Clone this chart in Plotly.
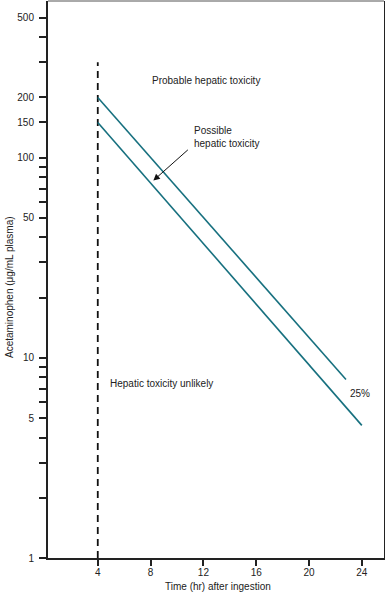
import plotly.graph_objects as go

# Data
hours_upper = [4, 22.8]
conc_upper = [200, 7.8]
hours_lower = [4, 24]
conc_lower = [150, 4.6]
hours_dash = [4, 4]
conc_dash = [1, 300]

x_tickvals = [4, 8, 12, 16, 20, 24]
x_ticktext = ["4", "8", "12", "16", "20", "24"]
y_tickvals = [1, 2, 3, 4, 5, 6, 7, 8, 9, 10, 20, 30, 40, 50, 60, 70, 80, 90,
              100, 150, 200, 300, 400, 500]
y_labeled = {1: "1", 5: "5", 10: "10", 50: "50", 100: "100", 150: "150",
             200: "200", 500: "500"}
y_ticktext = [y_labeled.get(v, "") for v in y_tickvals]

FONT = "Liberation Sans, Arial, Helvetica, sans-serif"
TEAL = "#17707f"
INK = "#222222"

fig = go.Figure()
fig.add_trace(go.Scatter(x=hours_dash, y=conc_dash, mode="lines",
                         line=dict(color="#111111", width=1.8, dash="7px,5px"),
                         hoverinfo="skip", showlegend=False))
fig.add_trace(go.Scatter(x=hours_upper, y=conc_upper, mode="lines",
                         line=dict(color=TEAL, width=1.6), showlegend=False))
fig.add_trace(go.Scatter(x=hours_lower, y=conc_lower, mode="lines",
                         line=dict(color=TEAL, width=1.6), showlegend=False))

ann_font = dict(family=FONT, size=10, color=INK)
annotations = [
    dict(x=12.22, y=2.385, xref="x", yref="y", text="Probable hepatic toxicity",
         showarrow=False, font=ann_font, xanchor="center", yanchor="middle"),
    dict(x=11.12, y=2.104, xref="x", yref="y", text="Possible<br>hepatic toxicity",
         showarrow=False, font=ann_font, xanchor="left", yanchor="middle", align="left"),
    dict(x=8.21, y=1.886, xref="x", yref="y", text="", showarrow=True,
         ax=36, ay=-32, arrowhead=2, arrowsize=1.3, arrowwidth=1, arrowcolor="#111111",
         standoff=0),
    dict(x=4.8, y=0.87, xref="x", yref="y", text="Hepatic toxicity unlikely",
         showarrow=False, font=ann_font, xanchor="left", yanchor="middle"),
    dict(x=23.84, y=0.823, xref="x", yref="y", text="25%",
         showarrow=False, font=ann_font, xanchor="center", yanchor="middle"),
    dict(x=-0.116, y=0.4865, xref="paper", yref="paper",
         text="Acetaminophen (\u03bcg/mL plasma)", textangle=-90,
         showarrow=False, font=ann_font, xanchor="center", yanchor="middle"),
    dict(x=0.5045, y=-0.0505, xref="paper", yref="paper",
         text="Time (hr) after ingestion",
         showarrow=False, font=ann_font, xanchor="center", yanchor="middle"),
]

fig.update_layout(
    width=385, height=600,
    margin=dict(l=48, r=1, t=1, b=42, autoexpand=False),
    paper_bgcolor="white", plot_bgcolor="white",
    font=dict(family=FONT, size=10, color=INK),
    showlegend=False,
    annotations=annotations,
    shapes=[dict(type="line", xref="paper", yref="paper", x0=0, x1=1, y0=1, y1=1,
                 line=dict(color="#555555", width=1))],
)
fig.update_xaxes(range=[0.23, 25.68], tickmode="array", tickvals=x_tickvals,
                 ticktext=x_ticktext, ticks="outside", ticklen=6, tickwidth=1.5,
                 tickcolor=INK, showgrid=False, zeroline=False, showline=True,
                 linecolor=INK, linewidth=2, mirror=False, automargin=False,
                 ticklabelstandoff=-2,
                 tickfont=dict(family=FONT, size=10, color=INK))
fig.update_yaxes(type="log", range=[0, 2.783], tickmode="array",
                 tickvals=y_tickvals, ticktext=y_ticktext, ticks="outside",
                 ticklen=7, tickwidth=1.5, tickcolor=INK, showgrid=False,
                 zeroline=False, showline=True, linecolor=INK, linewidth=2,
                 mirror=True, automargin=False, ticklabelstandoff=3,
                 tickfont=dict(family=FONT, size=10, color=INK))

fig.write_html("out.html", config={"displayModeBar": False},
               post_script="document.body.style.margin='0';document.body.style.overflow='hidden';")
